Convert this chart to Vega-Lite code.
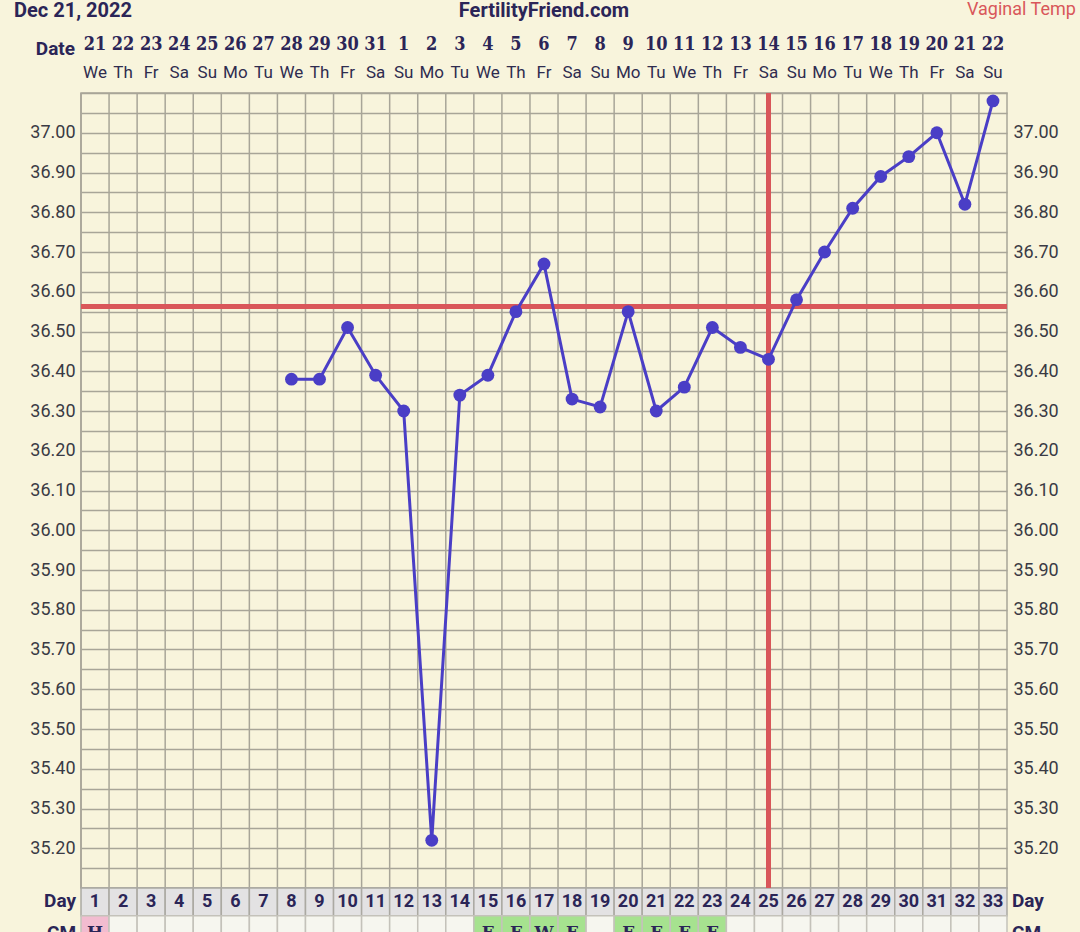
{
 "$schema": "https://vega.github.io/schema/vega-lite/v6.json",
 "width": 926,
 "height": 795,
 "autosize": {"type": "none"},
 "padding": {"left": 81, "top": 93, "right": 73, "bottom": 44},
 "background": "#F8F4DC",
 "config": {"view": {"stroke": "#A8A598", "strokeWidth": 1.5, "fill": "#F8F4DC"}, "font": "Roboto"},
 "data": {"values": [
  {"day": 1, "date": "21", "wd": "We", "temp": null, "cm": "H"},
  {"day": 2, "date": "22", "wd": "Th", "temp": null, "cm": ""},
  {"day": 3, "date": "23", "wd": "Fr", "temp": null, "cm": ""},
  {"day": 4, "date": "24", "wd": "Sa", "temp": null, "cm": ""},
  {"day": 5, "date": "25", "wd": "Su", "temp": null, "cm": ""},
  {"day": 6, "date": "26", "wd": "Mo", "temp": null, "cm": ""},
  {"day": 7, "date": "27", "wd": "Tu", "temp": null, "cm": ""},
  {"day": 8, "date": "28", "wd": "We", "temp": 36.38, "cm": ""},
  {"day": 9, "date": "29", "wd": "Th", "temp": 36.38, "cm": ""},
  {"day": 10, "date": "30", "wd": "Fr", "temp": 36.51, "cm": ""},
  {"day": 11, "date": "31", "wd": "Sa", "temp": 36.39, "cm": ""},
  {"day": 12, "date": "1", "wd": "Su", "temp": 36.30, "cm": ""},
  {"day": 13, "date": "2", "wd": "Mo", "temp": 35.22, "cm": ""},
  {"day": 14, "date": "3", "wd": "Tu", "temp": 36.34, "cm": ""},
  {"day": 15, "date": "4", "wd": "We", "temp": 36.39, "cm": "F"},
  {"day": 16, "date": "5", "wd": "Th", "temp": 36.55, "cm": "F"},
  {"day": 17, "date": "6", "wd": "Fr", "temp": 36.67, "cm": "W"},
  {"day": 18, "date": "7", "wd": "Sa", "temp": 36.33, "cm": "F"},
  {"day": 19, "date": "8", "wd": "Su", "temp": 36.31, "cm": ""},
  {"day": 20, "date": "9", "wd": "Mo", "temp": 36.55, "cm": "F"},
  {"day": 21, "date": "10", "wd": "Tu", "temp": 36.30, "cm": "F"},
  {"day": 22, "date": "11", "wd": "We", "temp": 36.36, "cm": "F"},
  {"day": 23, "date": "12", "wd": "Th", "temp": 36.51, "cm": "F"},
  {"day": 24, "date": "13", "wd": "Fr", "temp": 36.46, "cm": ""},
  {"day": 25, "date": "14", "wd": "Sa", "temp": 36.43, "cm": ""},
  {"day": 26, "date": "15", "wd": "Su", "temp": 36.58, "cm": ""},
  {"day": 27, "date": "16", "wd": "Mo", "temp": 36.70, "cm": ""},
  {"day": 28, "date": "17", "wd": "Tu", "temp": 36.81, "cm": ""},
  {"day": 29, "date": "18", "wd": "We", "temp": 36.89, "cm": ""},
  {"day": 30, "date": "19", "wd": "Th", "temp": 36.94, "cm": ""},
  {"day": 31, "date": "20", "wd": "Fr", "temp": 37.00, "cm": ""},
  {"day": 32, "date": "21", "wd": "Sa", "temp": 36.82, "cm": ""},
  {"day": 33, "date": "22", "wd": "Su", "temp": 37.08, "cm": ""}
 ]},
 "resolve": {"axis": {"x": "independent", "y": "independent"}},
 "layer": [
  {
   "mark": {"type": "rule", "color": "#A8A598", "strokeWidth": 1.5},
   "encoding": {
    "x": {"field": "day", "type": "ordinal", "bandPosition": 0, "scale": {"domain": [1,2,3,4,5,6,7,8,9,10,11,12,13,14,15,16,17,18,19,20,21,22,23,24,25,26,27,28,29,30,31,32,33], "paddingInner": 0, "paddingOuter": 0}, "axis": null}
   }
  },
  {
   "mark": {"type": "rect", "fill": "#E3E2E3", "stroke": "#ABA9A2", "strokeWidth": 1.5},
   "encoding": {
    "x": {"field": "day", "type": "ordinal", "axis": null},
    "y": {"datum": 35.1, "type": "quantitative", "scale": {"domain": [35.1, 37.1], "nice": false, "zero": false}, "axis": null},
    "y2": {"datum": 35.03}
   }
  },
  {
   "mark": {"type": "rect", "stroke": "#C4C2BA", "strokeWidth": 1.5},
   "encoding": {
    "x": {"field": "day", "type": "ordinal", "axis": null},
    "y": {"datum": 35.03, "type": "quantitative", "axis": null},
    "y2": {"datum": 34.9},
    "fill": {"field": "cm", "type": "nominal", "scale": {"domain": ["H", "F", "W", ""], "range": ["#F2BCD0", "#A6E28F", "#A6E28F", "#F6F6EF"]}, "legend": null}
   }
  },
  {
   "mark": {"type": "text", "font": "Roboto", "fontWeight": "bold", "fontSize": 18, "color": "#2B2557", "baseline": "middle"},
   "encoding": {
    "x": {"field": "day", "type": "ordinal", "axis": null},
    "y": {"datum": 35.066, "type": "quantitative", "axis": null},
    "text": {"field": "day", "type": "nominal"}
   }
  },
  {
   "mark": {"type": "text", "font": "DejaVu Serif", "fontWeight": "bold", "fontSize": 17, "color": "#2B2557", "baseline": "middle"},
   "encoding": {
    "x": {"field": "day", "type": "ordinal", "axis": null},
    "y": {"datum": 34.987, "type": "quantitative", "axis": null},
    "text": {"field": "cm", "type": "nominal"}
   }
  },
  {
   "mark": {"type": "text", "font": "'DejaVu Serif Condensed', 'DejaVu Serif'", "fontWeight": "bold", "fontSize": 18, "color": "#2B2557", "baseline": "middle"},
   "encoding": {
    "x": {"field": "day", "type": "ordinal", "axis": null},
    "y": {"datum": 37.222, "type": "quantitative", "axis": null},
    "text": {"field": "date", "type": "nominal"}
   }
  },
  {
   "mark": {"type": "text", "font": "Roboto", "fontSize": 17, "color": "#2F2C4F", "baseline": "middle"},
   "encoding": {
    "x": {"field": "day", "type": "ordinal", "axis": null},
    "y": {"datum": 37.15, "type": "quantitative", "axis": null},
    "text": {"field": "wd", "type": "nominal"}
   }
  },
  {
   "mark": {"type": "rule", "color": "#D9575A", "strokeWidth": 4},
   "encoding": {
    "y": {"datum": 36.563, "type": "quantitative", "axis": null}
   }
  },
  {
   "mark": {"type": "rule", "color": "#D9575A", "strokeWidth": 4},
   "encoding": {
    "x": {"datum": 25, "type": "ordinal", "axis": null}
   }
  },
  {
   "mark": {"type": "line", "color": "#4A3EC6", "strokeWidth": 3},
   "encoding": {
    "x": {"field": "day", "type": "ordinal", "axis": null},
    "y": {"field": "temp", "type": "quantitative", "scale": {"domain": [35.1, 37.1], "nice": false, "zero": false},
      "axis": {"orient": "left", "values": [35.1,35.15,35.2,35.25,35.3,35.35,35.4,35.45,35.5,35.55,35.6,35.65,35.7,35.75,35.8,35.85,35.9,35.95,36.0,36.05,36.1,36.15,36.2,36.25,36.3,36.35,36.4,36.45,36.5,36.55,36.6,36.65,36.7,36.75,36.8,36.85,36.9,36.95,37.0,37.05,37.1],
        "labelExpr": "(abs(datum.value*10 - round(datum.value*10)) < 0.01 && datum.value > 35.15 && datum.value < 37.05) ? format(datum.value, '.2f') : ''",
        "grid": true, "gridColor": "#A8A598", "gridWidth": 1.5, "ticks": false, "tickSize": 0, "domain": false, "title": null,
        "labelFont": "Roboto", "labelFontSize": 18, "labelColor": "#3A3A44", "labelPadding": 6, "labelOverlap": false, "labelFlush": false, "labelBound": false}}
   }
  },
  {
   "mark": {"type": "point", "filled": true, "opacity": 1, "color": "#4A3EC6", "size": 165},
   "encoding": {
    "x": {"field": "day", "type": "ordinal", "axis": null},
    "y": {"field": "temp", "type": "quantitative",
      "axis": {"orient": "right", "values": [35.2,35.3,35.4,35.5,35.6,35.7,35.8,35.9,36.0,36.1,36.2,36.3,36.4,36.5,36.6,36.7,36.8,36.9,37.0],
        "format": ".2f", "grid": false, "ticks": false, "tickSize": 0, "domain": false, "title": null,
        "labelFont": "Roboto", "labelFontSize": 18, "labelColor": "#3A3A44", "labelPadding": 6, "labelOverlap": false, "labelFlush": false, "labelBound": false}}
   }
  },
  {
   "data": {"values": [{"t": "Date"}]},
   "mark": {"type": "text", "font": "Roboto", "fontWeight": "bold", "fontSize": 19, "color": "#2B2557", "align": "right", "baseline": "middle", "dx": -20},
   "encoding": {
    "x": {"datum": 1, "type": "ordinal", "axis": null},
    "y": {"datum": 37.21, "type": "quantitative", "axis": null},
    "text": {"field": "t"}
   }
  },
  {
   "data": {"values": [{"t": "Day"}]},
   "mark": {"type": "text", "font": "Roboto", "fontWeight": "bold", "fontSize": 19, "color": "#2B2557", "align": "right", "baseline": "middle", "dx": -19},
   "encoding": {
    "x": {"datum": 1, "type": "ordinal", "axis": null},
    "y": {"datum": 35.068, "type": "quantitative", "axis": null},
    "text": {"field": "t"}
   }
  },
  {
   "data": {"values": [{"t": "Day"}]},
   "mark": {"type": "text", "font": "Roboto", "fontWeight": "bold", "fontSize": 19, "color": "#2B2557", "align": "left", "baseline": "middle", "dx": 19},
   "encoding": {
    "x": {"datum": 33, "type": "ordinal", "axis": null},
    "y": {"datum": 35.068, "type": "quantitative", "axis": null},
    "text": {"field": "t"}
   }
  },
  {
   "data": {"values": [{"t": "CM"}]},
   "mark": {"type": "text", "font": "Roboto", "fontWeight": "bold", "fontSize": 19, "color": "#2B2557", "align": "right", "baseline": "middle", "dx": -19},
   "encoding": {
    "x": {"datum": 1, "type": "ordinal", "axis": null},
    "y": {"datum": 34.987, "type": "quantitative", "axis": null},
    "text": {"field": "t"}
   }
  },
  {
   "data": {"values": [{"t": "CM"}]},
   "mark": {"type": "text", "font": "Roboto", "fontWeight": "bold", "fontSize": 19, "color": "#2B2557", "align": "left", "baseline": "middle", "dx": 19},
   "encoding": {
    "x": {"datum": 33, "type": "ordinal", "axis": null},
    "y": {"datum": 34.987, "type": "quantitative", "axis": null},
    "text": {"field": "t"}
   }
  },
  {
   "data": {"values": [{"t": "Dec 21, 2022"}]},
   "mark": {"type": "text", "font": "Roboto", "fontWeight": "bold", "fontSize": 20, "color": "#2B2557", "align": "left", "baseline": "middle", "dx": -81},
   "encoding": {
    "x": {"datum": 1, "type": "ordinal", "axis": null},
    "y": {"datum": 37.307, "type": "quantitative", "axis": null},
    "text": {"field": "t"}
   }
  },
  {
   "data": {"values": [{"t": "FertilityFriend.com"}]},
   "mark": {"type": "text", "font": "Roboto", "fontWeight": "bold", "fontSize": 20, "color": "#2B2557", "align": "center", "baseline": "middle"},
   "encoding": {
    "x": {"datum": 17, "type": "ordinal", "axis": null},
    "y": {"datum": 37.307, "type": "quantitative", "axis": null},
    "text": {"field": "t"}
   }
  },
  {
   "data": {"values": [{"t": "Vaginal Temp"}]},
   "mark": {"type": "text", "font": "Roboto", "fontSize": 18, "color": "#D9575A", "align": "left", "baseline": "middle", "dx": -26},
   "encoding": {
    "x": {"datum": 33, "type": "ordinal", "axis": null},
    "y": {"datum": 37.31, "type": "quantitative", "axis": null},
    "text": {"field": "t"}
   }
  }
 ]
}
